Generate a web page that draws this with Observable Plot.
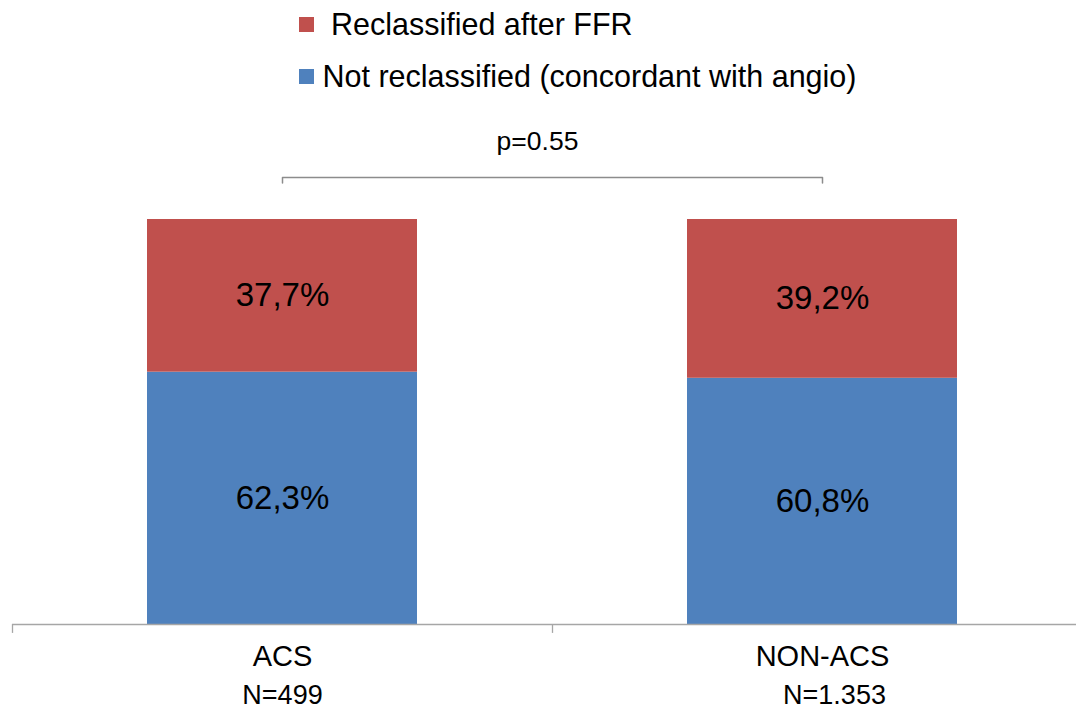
<!DOCTYPE html>
<html>
<head>
<meta charset="utf-8">
<script src="https://cdn.jsdelivr.net/npm/d3@7"></script>
<script src="https://cdn.jsdelivr.net/npm/@observablehq/plot@0.6"></script>
<style>
  html, body { margin: 0; padding: 0; background: #fff; }
  body { width: 1076px; height: 710px; overflow: hidden; font-family: "Liberation Sans", Arial, sans-serif; }
  #legend { position: relative; height: 100px; }
  .item { position: absolute; left: 299px; display: flex; align-items: center; color: #000; font-size: 30.5px; white-space: pre; }
  .swatch { width: 15px; height: 15px; display: inline-block; }
</style>
</head>
<body>
<div id="legend"></div>
<div id="chart"></div>
<script>
// Share of lesions reclassified after FFR, by clinical presentation
const groups = ["ACS", "NON-ACS"];
const sampleSizes = ["N=499", "N=1.353"];
const reclassified = [37.7, 39.2];
const notReclassified = [62.3, 60.8];
const seriesNames = ["Reclassified after FFR", "Not reclassified (concordant with angio)"];
const seriesColors = ["#C0504D", "#4F81BD"];
const pValue = "p=0.55";

// Long table: bottom segment first so it stacks under the red one
const rows = [];
groups.forEach((g, i) => {
  rows.push({group: g, series: seriesNames[1], value: notReclassified[i]});
  rows.push({group: g, series: seriesNames[0], value: reclassified[i]});
});
const fmt = v => v.toFixed(1).replace(".", ",") + "%";

// Legend above the chart
const legend = document.getElementById("legend");
[[0, 7, " Reclassified after FFR"], [1, 59, "Not reclassified (concordant with angio)"]].forEach(([k, top, label]) => {
  const item = document.createElement("div");
  item.className = "item";
  item.style.top = top + "px";
  const sw = document.createElement("span");
  sw.className = "swatch";
  sw.style.background = seriesColors[k];
  const tx = document.createElement("span");
  tx.textContent = " " + label;
  item.append(sw, tx);
  legend.append(item);
});

// Bracket above the two bars for the p-value
const bracket = [
  {group: groups[0], y: 109.0},
  {group: groups[0], y: 110.4},
  {group: groups[1], y: 110.4},
  {group: groups[1], y: 109.0}
];

const chart = Plot.plot({
  width: 1076,
  height: 610,
  marginLeft: 12,
  marginRight: 0,
  marginTop: 0,
  marginBottom: 0,
  style: {fontFamily: "'Liberation Sans', Arial, sans-serif", background: "#fff"},
  x: {domain: groups, range: [12, 1092], paddingInner: 0.5, paddingOuter: 0.25, axis: null},
  y: {domain: [0, 100], range: [524, 119], axis: null},
  color: {domain: seriesNames, range: seriesColors},
  marks: [
    Plot.barY(rows, Plot.stackY({x: "group", y: "value", fill: "series", order: seriesNames.slice().reverse()})),
    Plot.text(rows, Plot.stackY({
      x: "group", y: "value", z: "series", order: seriesNames.slice().reverse(),
      text: d => fmt(d.value), fontSize: 33, fill: "#000", lineAnchor: "middle"
    })),
    // category axis baseline and separators between categories
    Plot.ruleY([0], {stroke: "#A6A6A6", strokeWidth: 1.3}),
    Plot.ruleX(groups, {x: d => d, y1: 0, y2: -2.2, dx: -270, stroke: "#A6A6A6", strokeWidth: 1.3}),
    Plot.text(groups, {x: d => d, y: 0, dy: 32, text: d => d, fontSize: 29, fill: "#000", lineAnchor: "middle"}),
    // sample sizes under each category
    Plot.text(groups, {x: d => d, y: 0, dy: 71, text: (d, i) => sampleSizes[i], filter: (d, i) => i === 0,
      fontSize: 27, fill: "#000", lineAnchor: "middle"}),
    Plot.text(groups, {x: d => d, y: 0, dy: 71, dx: 12, text: (d, i) => sampleSizes[i], filter: (d, i) => i === 1,
      fontSize: 27, fill: "#000", lineAnchor: "middle"}),
    // significance bracket
    Plot.line(bracket, {x: "group", y: "y", stroke: "#8C8C8C", strokeWidth: 1.5}),
    Plot.text([pValue], {frameAnchor: "middle", y: () => 110.4, dy: -36, dx: -7, text: d => d, fontSize: 26.5, fill: "#000", lineAnchor: "middle"})
  ]
});
document.getElementById("chart").append(chart);
</script>
</body>
</html>
